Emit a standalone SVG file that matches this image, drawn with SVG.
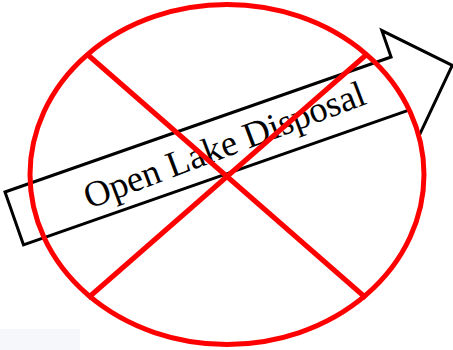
<svg xmlns="http://www.w3.org/2000/svg" width="453" height="350" viewBox="0 0 453 350">
<style>
.arrow{fill:#fff;stroke:#000;stroke-width:3;stroke-linejoin:miter}
.lbl{font-family:"Liberation Serif","Times New Roman",serif;font-size:36.5px;fill:#000}
.red{fill:none;stroke:#ff0000;stroke-width:5}
</style>
<rect x="0" y="329" width="80" height="21" fill="#f5f7fb"/>
<g id="arrow" transform="translate(5,192) rotate(-19.27)">
<polygon class="arrow" points="0,0 409,0 409,-28 464,28 409,84 409,56 0,56"/>
<text class="lbl" x="74" y="44" transform="rotate(-1.5 74 44)">Open Lake Disposal</text>
</g>
<g id="prohibition">
<ellipse class="red" cx="227" cy="174.5" rx="197" ry="170"/>
<line class="red" x1="88" y1="55" x2="366" y2="298"/>
<line class="red" x1="88" y1="298" x2="366" y2="55"/>
</g>
</svg>
